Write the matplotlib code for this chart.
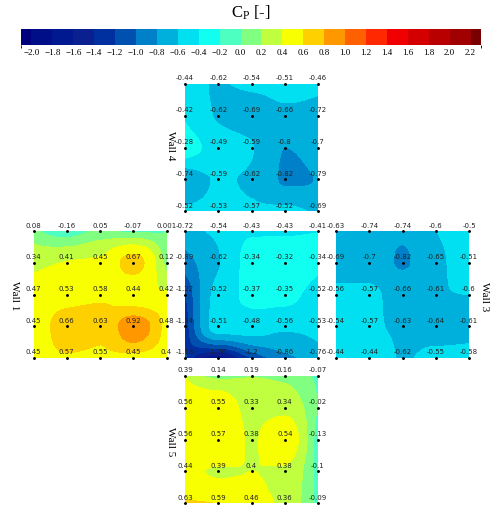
import numpy as np
import matplotlib
matplotlib.use("Agg")
import matplotlib.pyplot as plt
from matplotlib.colors import ListedColormap, BoundaryNorm
from matplotlib.cm import ScalarMappable

plt.rcParams["mathtext.fontset"] = "custom"
plt.rcParams["mathtext.rm"] = "Liberation Serif"
plt.rcParams["mathtext.it"] = "Liberation Serif:italic"

# Pressure coefficient measured on each wall (5 x 5 taps, top row first)
wall4 = [[-0.44, -0.62, -0.54, -0.51, -0.46],
         [-0.42, -0.62, -0.69, -0.66, -0.72],
         [-0.28, -0.49, -0.59, -0.8, -0.7],
         [-0.74, -0.59, -0.62, -0.82, -0.79],
         [-0.52, -0.53, -0.57, -0.52, -0.69]]

wall1 = [[0.08, -0.16, 0.05, -0.07, 0.001],
         [0.34, 0.41, 0.45, 0.67, 0.12],
         [0.47, 0.53, 0.58, 0.44, 0.42],
         [0.45, 0.66, 0.63, 0.92, 0.48],
         [0.45, 0.57, 0.55, 0.45, 0.4]]

wall2 = [[-0.72, -0.54, -0.43, -0.43, -0.41],
         [-0.89, -0.62, -0.34, -0.32, -0.34],
         [-1.22, -0.52, -0.37, -0.35, -0.52],
         [-1.34, -0.51, -0.48, -0.56, -0.53],
         [-1.13, -1.76, -1.2, -0.86, -0.76]]

wall3 = [[-0.63, -0.74, -0.74, -0.6, -0.5],
         [-0.69, -0.7, -0.82, -0.65, -0.51],
         [-0.56, -0.57, -0.66, -0.61, -0.6],
         [-0.54, -0.57, -0.63, -0.64, -0.61],
         [-0.44, -0.44, -0.62, -0.55, -0.58]]

wall5 = [[0.39, 0.14, 0.19, 0.16, -0.07],
         [0.56, 0.55, 0.33, 0.34, -0.02],
         [0.56, 0.57, 0.38, 0.54, -0.13],
         [0.44, 0.39, 0.4, 0.38, -0.1],
         [0.63, 0.59, 0.46, 0.36, -0.09]]

# Contour levels and colour scale
cp_ticks = [-2.0, -1.8, -1.6, -1.4, -1.2, -1.0, -0.8, -0.6, -0.4, -0.2, 0.0,
            0.2, 0.4, 0.6, 0.8, 1.0, 1.2, 1.4, 1.6, 1.8, 2.0, 2.2]
cp_bounds = [-2.1] + cp_ticks + [2.3]
cp_colors = ["#00007f", "#000f88", "#001890", "#0a2090", "#0030a0", "#0050b0",
             "#0080c8", "#00b0dc", "#00e0f0", "#10fff0", "#4dffc0", "#80ff80",
             "#c0ff40", "#f8ff00", "#ffd000", "#ff9800", "#ff6000", "#ff2800",
             "#f00000", "#d40000", "#b80000", "#a00000", "#780000"]

cmap = ListedColormap(cp_colors)
norm = BoundaryNorm(cp_bounds, cmap.N)

W, H = 491, 512
fig = plt.figure(figsize=(W / 100, H / 100), dpi=100)


def pchip_1d(y, samples):
    """Shape-preserving piecewise cubic Hermite interpolation on knots 0..n-1."""
    y = np.asarray(y, dtype=float)
    n = len(y)
    delta = np.diff(y)
    d = np.zeros(n)
    for k in range(1, n - 1):
        a, b = delta[k - 1], delta[k]
        if a * b > 0:
            d[k] = 2.0 / (1.0 / a + 1.0 / b)
    for end, (d0, d1) in ((0, (delta[0], delta[1])), (n - 1, (delta[-1], delta[-2]))):
        v = (3 * d0 - d1) / 2.0
        if np.sign(v) != np.sign(d0):
            v = 0.0
        elif np.sign(d0) != np.sign(d1) and abs(v) > 3 * abs(d0):
            v = 3 * d0
        d[end] = v
    i = np.clip(np.floor(samples).astype(int), 0, n - 2)
    t = samples - i
    h00 = 2 * t ** 3 - 3 * t ** 2 + 1
    h10 = t ** 3 - 2 * t ** 2 + t
    h01 = -2 * t ** 3 + 3 * t ** 2
    h11 = t ** 3 - t ** 2
    return h00 * y[i] + h10 * d[i] + h01 * y[i + 1] + h11 * d[i + 1]


def px_rect(left, top, width, height):
    return [left / W, 1 - (top + height) / H, width / W, height / H]


def draw_wall(values, left, top, name=None, name_x=0, name_y=0):
    ax = fig.add_axes(px_rect(left, top, 133, 127))
    z = np.array(values, dtype=float)[::-1]  # bottom row first
    ny, nx = z.shape
    sx = np.linspace(0, nx - 1, 241)
    sy = np.linspace(0, ny - 1, 241)
    rows = np.array([pchip_1d(r, sx) for r in z])
    fz = np.array([pchip_1d(c, sy) for c in rows.T]).T
    ax.contourf(sx, sy, fz, levels=cp_bounds, cmap=cmap, norm=norm)
    gx, gy = np.meshgrid(np.arange(nx), np.arange(ny))
    ax.plot(gx.ravel(), gy.ravel(), "k.", ms=2.2, clip_on=False)
    for xv, yv, v in zip(gx.ravel(), gy.ravel(), z.ravel()):
        ax.annotate(f"{v:g}", (xv, yv), xytext=(0, 1.8), textcoords="offset points",
                    ha="center", va="bottom", fontsize=5, color="#222222",
                    annotation_clip=False)
    ax.set_xlim(0, nx - 1)
    ax.set_ylim(0, ny - 1)
    ax.axis("off")
    if name:
        fig.text(name_x / W, 1 - name_y / H, name, rotation=270, ha="center",
                 va="center", fontsize=8, family="Liberation Serif")


draw_wall(wall4, 185, 84, "Wall 4", 170, 146)
draw_wall(wall1, 33.5, 231, "Wall 1", 14, 296)
draw_wall(wall2, 185, 231)
draw_wall(wall3, 336, 231, "Wall 3", 484, 297)
draw_wall(wall5, 185, 376, "Wall 5", 170, 442)

# Colour bar
cax = fig.add_axes(px_rect(21, 29, 460, 16))
cb = fig.colorbar(ScalarMappable(norm=norm, cmap=cmap), cax=cax,
                  orientation="horizontal", spacing="proportional", ticks=cp_ticks)
cb.outline.set_visible(False)
cax.tick_params(length=0, pad=3)
cax.set_xticklabels([f"{t:.1f}".replace("-", "\u2212") for t in cp_ticks],
                    fontsize=6.5, family="Liberation Serif")

fig.text(251 / W, 1 - 13 / H, r"$\mathrm{C_P}$ [-]", ha="center", va="center",
         fontsize=12, family="Liberation Serif")

fig.savefig("out.png", dpi=100)
